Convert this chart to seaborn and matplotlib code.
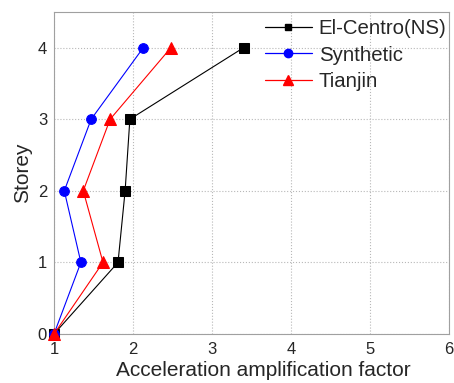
import matplotlib
matplotlib.use("Agg")
import matplotlib.pyplot as plt
from matplotlib.lines import Line2D
import seaborn as sns
import pandas as pd

storey = [0, 1, 2, 3, 4]
elcentro = [1.0, 1.81, 1.90, 1.96, 3.40]
synthetic = [1.0, 1.34, 1.13, 1.47, 2.13]
tianjin = [1.0, 1.62, 1.37, 1.71, 2.48]
series_names = ["El-Centro(NS)", "Synthetic", "Tianjin"]
x_ticks = [1, 2, 3, 4, 5, 6]
y_ticks = [0, 1, 2, 3, 4]

sns.set_style("white")
plt.rcParams['font.family'] = ['Liberation Sans', 'DejaVu Sans']

fig = plt.figure(figsize=(4.54, 3.83), dpi=100)
ax = fig.add_axes([0.119, 0.128, 0.870, 0.841])

styles = [("black", "s", 7, 5), ("blue", "o", 7, 6), ("red", "^", 8.5, 6.5)]
handles = []
for name, vals, (c, m, ms, lms) in zip(series_names, [elcentro, synthetic, tianjin], styles):
    df = pd.DataFrame({"x": vals, "y": storey})
    sns.lineplot(data=df, x="x", y="y", sort=False, orient="y", ax=ax,
                 color=c, marker=m, markersize=ms, markeredgecolor=c,
                 markerfacecolor=c, linewidth=0.8, clip_on=False, zorder=3)
    handles.append(Line2D([], [], color=c, marker=m, markersize=lms,
                          markeredgecolor=c, markerfacecolor=c, linewidth=0.9,
                          label=name))

ax.set_xlim(1, 6)
ax.set_ylim(0, 4.5)
ax.set_xticks(x_ticks)
ax.set_yticks(y_ticks)
ax.tick_params(axis="x", labelsize=12, length=0, pad=6)
ax.tick_params(axis="y", labelsize=12, length=0, pad=5)
ax.grid(True, linestyle=":", color="#b8b8b8", linewidth=0.8)
for s in ax.spines.values():
    s.set_color("#a0a0a0")
    s.set_linewidth(0.8)
ax.set_xlabel("Acceleration amplification factor", fontsize=15)
ax.xaxis.set_label_coords(0.53, -0.085)
ax.set_ylabel("Storey", fontsize=15, labelpad=4)

leg = ax.legend(handles=handles, loc="upper right", frameon=False, fontsize=14.7,
                handlelength=2.3, handletextpad=0.33, labelspacing=0.38,
                borderaxespad=0.0, borderpad=0.4, bbox_to_anchor=(1.014, 1.004))

fig.savefig("out.png", dpi=100)
